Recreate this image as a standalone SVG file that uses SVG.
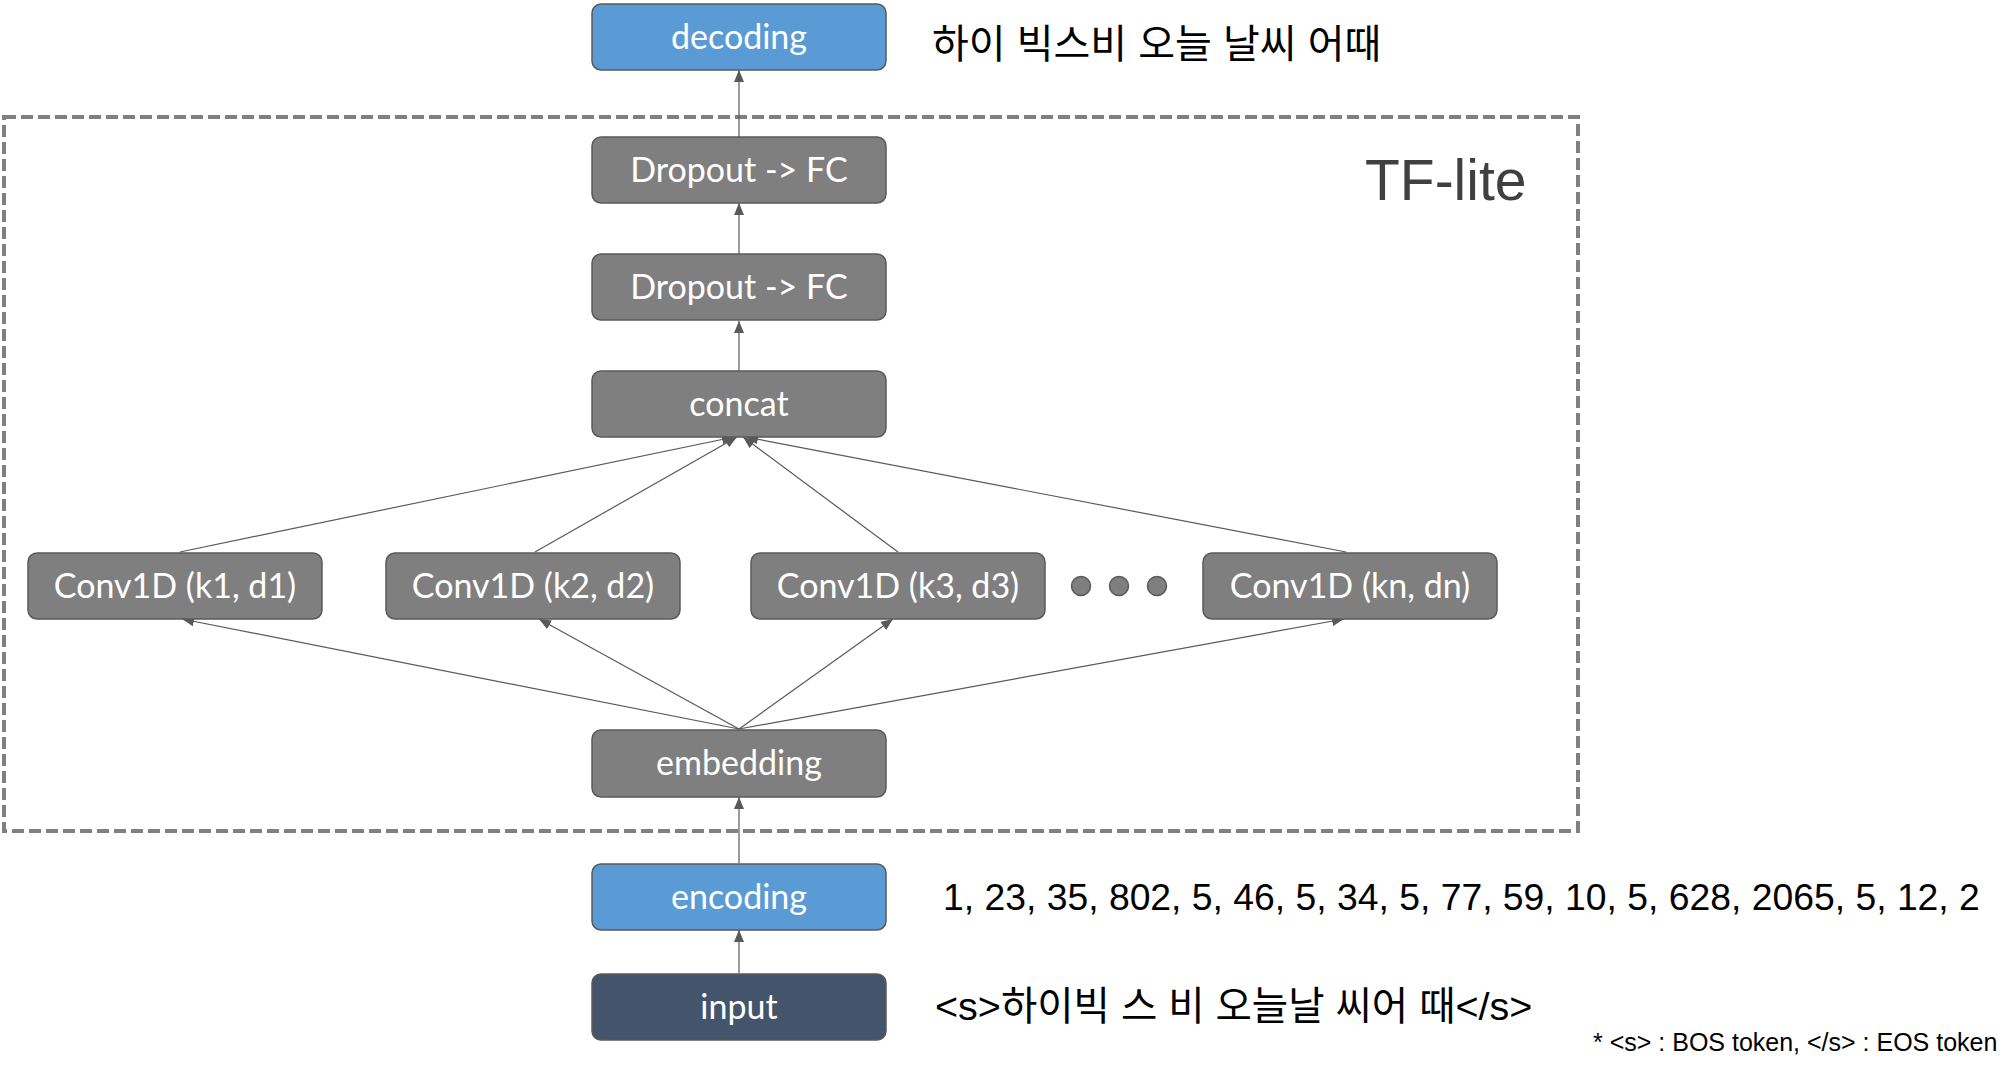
<svg xmlns="http://www.w3.org/2000/svg" width="2014" height="1070" viewBox="0 0 2014 1070">
  <style>
    .box { stroke: #5a5a5a; stroke-width: 1.5; }
    .gray { fill: #7f7f7f; }
    .blue { fill: #5b9bd5; }
    .navy { fill: #44546a; }
    .lbl { font-family: Lato, "Open Sans", "Liberation Sans", sans-serif; font-size: 34px; fill: #ffffff; text-anchor: middle; }
    .side { font-family: "Liberation Sans", "Noto Sans CJK KR", sans-serif; fill: #000000; }
    .conn { stroke: #595959; stroke-width: 1.2; fill: none; marker-end: url(#head); }
    .dot { fill: #7f7f7f; stroke: #595959; stroke-width: 1.5; }
  </style>
  <defs>
    <marker id="head" markerUnits="userSpaceOnUse" markerWidth="13" markerHeight="10" refX="12" refY="5" orient="auto">
      <path d="M0,0 L12,5 L0,10 z" fill="#595959"/>
    </marker>
  </defs>

  <rect width="2014" height="1070" fill="#ffffff"/>

  <!-- TF-lite boundary -->
  <g id="tflite-frame">
    <rect x="4" y="117" width="1574" height="714" fill="none" stroke="#808080" stroke-width="4" stroke-dasharray="12 5"/>
    <text x="1365" y="200" font-family="'Liberation Sans', Arial, sans-serif" font-size="57" fill="#404040">TF-lite</text>
  </g>

  <!-- connectors -->
  <g id="connectors">
    <line class="conn" x1="739" y1="137" x2="739" y2="70"/>
    <line class="conn" x1="739" y1="254" x2="739" y2="203"/>
    <line class="conn" x1="739" y1="372" x2="739" y2="321"/>
    <line class="conn" x1="180" y1="552" x2="734" y2="437"/>
    <line class="conn" x1="535" y1="552" x2="737" y2="437"/>
    <line class="conn" x1="898" y1="552" x2="743" y2="437"/>
    <line class="conn" x1="1346" y1="552" x2="746" y2="437"/>
    <line class="conn" x1="739" y1="729" x2="182" y2="619"/>
    <line class="conn" x1="739" y1="729" x2="539" y2="619"/>
    <line class="conn" x1="739" y1="729" x2="893" y2="619"/>
    <line class="conn" x1="739" y1="729" x2="1344" y2="619"/>
    <line class="conn" x1="739" y1="863" x2="739" y2="797"/>
    <line class="conn" x1="739" y1="973" x2="739" y2="930"/>
  </g>

  <!-- nodes -->
  <g id="decoding">
    <rect class="box blue" x="592" y="4" width="294" height="66" rx="9"/>
    <text class="lbl" x="739" y="49">decoding</text>
  </g>
  <g id="decoding-text">
    <text class="side" x="932" y="58" font-size="40">하이 빅스비 오늘 날씨 어때</text>
  </g>

  <g id="dropout-fc-2">
    <rect class="box gray" x="592" y="137" width="294" height="66" rx="9"/>
    <text class="lbl" x="739" y="182">Dropout -&gt; FC</text>
  </g>
  <g id="dropout-fc-1">
    <rect class="box gray" x="592" y="254" width="294" height="66" rx="9"/>
    <text class="lbl" x="739" y="299">Dropout -&gt; FC</text>
  </g>
  <g id="concat">
    <rect class="box gray" x="592" y="371" width="294" height="66" rx="9"/>
    <text class="lbl" x="739" y="416">concat</text>
  </g>

  <g id="conv1">
    <rect class="box gray" x="28" y="553" width="294" height="66" rx="9"/>
    <text class="lbl" x="175" y="598">Conv1D (k1, d1)</text>
  </g>
  <g id="conv2">
    <rect class="box gray" x="386" y="553" width="294" height="66" rx="9"/>
    <text class="lbl" x="533" y="598">Conv1D (k2, d2)</text>
  </g>
  <g id="conv3">
    <rect class="box gray" x="751" y="553" width="294" height="66" rx="9"/>
    <text class="lbl" x="898" y="598">Conv1D (k3, d3)</text>
  </g>
  <g id="ellipsis">
    <circle class="dot" cx="1081" cy="586" r="9.5"/>
    <circle class="dot" cx="1119" cy="586" r="9.5"/>
    <circle class="dot" cx="1157" cy="586" r="9.5"/>
  </g>
  <g id="convn">
    <rect class="box gray" x="1203" y="553" width="294" height="66" rx="9"/>
    <text class="lbl" x="1350" y="598">Conv1D (kn, dn)</text>
  </g>

  <g id="embedding">
    <rect class="box gray" x="592" y="730" width="294" height="67" rx="9"/>
    <text class="lbl" x="739" y="775">embedding</text>
  </g>

  <g id="encoding">
    <rect class="box blue" x="592" y="864" width="294" height="66" rx="9"/>
    <text class="lbl" x="739" y="909">encoding</text>
  </g>
  <g id="encoding-text">
    <text class="side" x="943" y="910" font-size="37.3">1, 23, 35, 802, 5, 46, 5, 34, 5, 77, 59, 10, 5, 628, 2065, 5, 12, 2</text>
  </g>

  <g id="input">
    <rect class="box navy" x="592" y="974" width="294" height="66" rx="9"/>
    <text class="lbl" x="739" y="1019">input</text>
  </g>
  <g id="input-text">
    <text class="side" x="935" y="1020" font-size="39.5">&lt;s&gt;하이빅 스 비 오늘날 씨어 때&lt;/s&gt;</text>
  </g>

  <g id="footnote">
    <text class="side" x="1593" y="1051" font-size="25">* &lt;s&gt; : BOS token, &lt;/s&gt; : EOS token</text>
  </g>
</svg>
